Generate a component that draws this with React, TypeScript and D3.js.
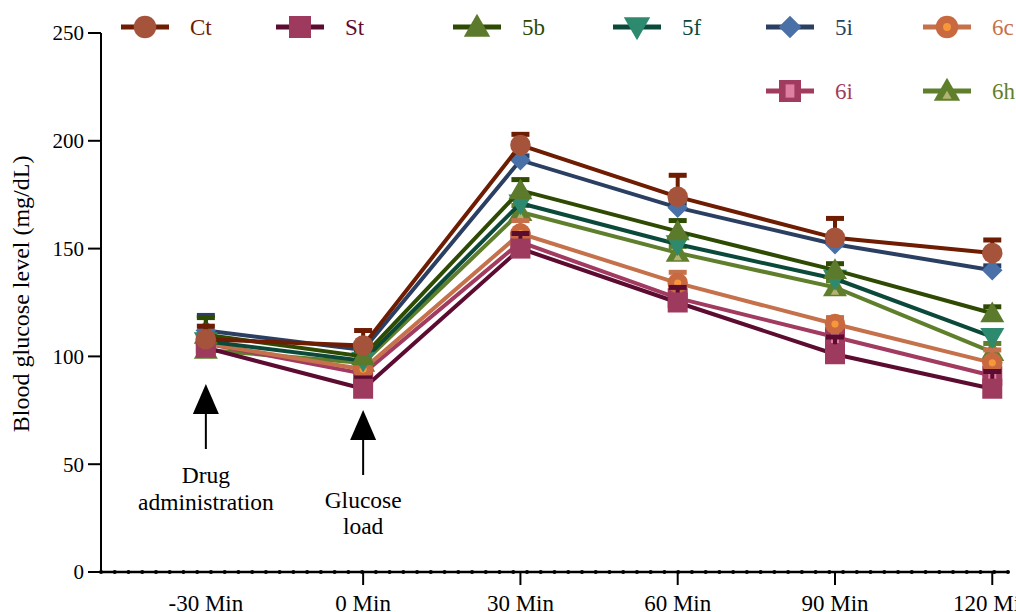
import React, { useRef, useEffect } from "react";
import * as d3 from "d3";

// time points (min)
const times = [-30, 0, 30, 60, 90, 120];
const timeLabels = ["-30 Min", "0 Min", "30 Min", "60 Min", "90 Min", "120 Min"];
const yTicks = [0, 50, 100, 150, 200, 250];

// mean blood glucose (mg/dL) and SEM per group
const ctMean = [108, 105, 198, 174, 155, 148];
const ctSem = [6, 7, 5, 10, 9, 6];
const stMean = [104, 85, 150, 125, 101, 85];
const stSem = [3, 5, 7, 7, 8, 8];
const b5Mean = [110, 100, 177, 158, 140, 120];
const b5Sem = [8, 3, 5, 5, 3, 3];
const f5Mean = [107, 98, 171, 152, 136, 109];
const f5Sem = [3, 3, 3, 3, 3, 3];
const i5Mean = [112, 103, 191, 169, 152, 140];
const i5Sem = [7, 2, 2, 2, 2, 2];
const c6Mean = [106, 94, 157, 134, 115, 97];
const c6Sem = [3, 3, 6, 5, 3, 6];
const i6Mean = [106, 92, 153, 127, 109, 91];
const i6Sem = [3, 3, 3, 3, 3, 3];
const h6Mean = [103, 97, 167, 148, 132, 102];
const h6Sem = [3, 3, 3, 3, 3, 4];

type Shape = "circle" | "square" | "triUp" | "triDown" | "diamond";

interface Series {
  name: string;
  mean: number[];
  sem: number[];
  line: string;
  fill: string;
  inner?: string;
  shape: Shape;
}

const series: Series[] = [
  { name: "Ct", mean: ctMean, sem: ctSem, line: "#6e1c02", fill: "#a5533a", shape: "circle" },
  { name: "St", mean: stMean, sem: stSem, line: "#5c0c30", fill: "#9e3a5e", shape: "square" },
  { name: "5b", mean: b5Mean, sem: b5Sem, line: "#2f4a03", fill: "#5b7a2b", shape: "triUp" },
  { name: "5f", mean: f5Mean, sem: f5Sem, line: "#0b4a3a", fill: "#2e8a6e", shape: "triDown" },
  { name: "5i", mean: i5Mean, sem: i5Sem, line: "#2b3f62", fill: "#4a70a8", shape: "diamond" },
  { name: "6c", mean: c6Mean, sem: c6Sem, line: "#c5714b", fill: "#c8693f", inner: "#f7973a", shape: "circle" },
  { name: "6i", mean: i6Mean, sem: i6Sem, line: "#a23b60", fill: "#a23b60", inner: "#df80a0", shape: "square" },
  { name: "6h", mean: h6Mean, sem: h6Sem, line: "#5f7f2d", fill: "#5f7f2d", inner: "#b4b472", shape: "triUp" },
];

const FONT = "Liberation Serif";

function symbolPath(shape: Shape, scale = 1): string {
  const type =
    shape === "circle" ? d3.symbolCircle : shape === "square" || shape === "diamond" ? d3.symbolSquare : d3.symbolTriangle;
  const size =
    shape === "circle" ? 330 : shape === "square" ? 400 : shape === "diamond" ? 210 : 250;
  return d3.symbol().type(type).size(size * scale * scale)() || "";
}

function drawMarker(
  g: d3.Selection<SVGGElement, unknown, null, undefined>,
  s: Series,
  cx: number,
  cy: number,
  k = 1
) {
  const m = g.append("g").attr("transform", `translate(${cx},${cy})`);
  const rot = s.shape === "triDown" ? " rotate(180)" : s.shape === "diamond" ? " rotate(45)" : "";
  const dy = s.shape === "triUp" ? 2 : s.shape === "triDown" ? -2 : 0;
  m.append("path")
    .attr("d", symbolPath(s.shape, k))
    .attr("transform", `translate(0,${dy})${rot}`)
    .attr("fill", s.fill);
  if (s.inner) {
    if (s.shape === "square") {
      m.append("rect")
        .attr("x", -4 * k)
        .attr("y", -6 * k)
        .attr("width", 8 * k)
        .attr("height", 12 * k)
        .attr("fill", s.inner);
    } else {
      m.append("path")
        .attr("d", symbolPath(s.shape, 0.35 * k))
        .attr("transform", `translate(0,${dy + (s.shape === "triUp" ? 3 : 0)})`)
        .attr("fill", s.inner);
    }
  }
}

export default function App() {
  const svgRef = useRef<SVGSVGElement>(null);

  useEffect(() => {
    if (!svgRef.current) return;
    const width = 1016;
    const height = 612;

    const x = d3.scaleLinear().domain([-50, 123]).range([101, 1008]);
    const y = d3.scaleLinear().domain([0, 250]).range([572, 33]);

    const svg = d3.select(svgRef.current).attr("width", width).attr("height", height);
    svg.selectAll("*").remove();

    const label = (
      parent: d3.Selection<SVGGElement, unknown, null, undefined>,
      px: number,
      py: number,
      txt: string,
      size: number,
      anchor = "middle"
    ) =>
      parent
        .append("text")
        .attr("x", px)
        .attr("y", py)
        .attr("text-anchor", anchor)
        .style("font-family", FONT)
        .style("font-size", `${size}px`)
        .text(txt);

    // y axis
    const ax = svg.append("g");
    ax.append("line")
      .attr("x1", x(-50))
      .attr("x2", x(-50))
      .attr("y1", y(250))
      .attr("y2", y(0))
      .attr("stroke", "#000")
      .attr("stroke-width", 2);
    yTicks.forEach((v) => {
      ax.append("line")
        .attr("x1", x(-50) - 13)
        .attr("x2", x(-50))
        .attr("y1", y(v))
        .attr("y2", y(v))
        .attr("stroke", "#000")
        .attr("stroke-width", 2);
      label(ax, x(-50) - 17, y(v), String(v), 21, "end").attr("dy", "0.35em");
    });

    // x axis with minor dots
    ax.append("line")
      .attr("x1", x(-50))
      .attr("x2", x(123))
      .attr("y1", y(0))
      .attr("y2", y(0))
      .attr("stroke", "#000")
      .attr("stroke-width", 2.5);
    const [r0, r1] = x.range();
    d3.range(67).forEach((i) => {
      const px = r0 + (i * (r1 - r0)) / 66;
      ax.append("circle").attr("cx", px).attr("cy", y(0)).attr("r", 2).attr("fill", "#000");
    });
    times.forEach((t, i) => {
      if (t !== -30) {
        ax.append("line")
          .attr("x1", x(t))
          .attr("x2", x(t))
          .attr("y1", y(0))
          .attr("y2", y(0) + 13)
          .attr("stroke", "#000")
          .attr("stroke-width", 2);
      }
      label(ax, x(t), 611, timeLabels[i], 23);
    });

    label(ax, 0, 0, "Blood glucose level (mg/dL)", 24).attr(
      "transform",
      `translate(29,${y(129)}) rotate(-90)`
    );

    // annotations
    const ann = svg.append("g");
    const arrow = (cx: number, tip: number) => {
      ann.append("path")
        .attr("d", `M${cx},${tip} L${cx - 13},${tip + 30} L${cx + 13},${tip + 30} Z`)
        .attr("fill", "#000");
      ann.append("line")
        .attr("x1", cx)
        .attr("x2", cx)
        .attr("y1", tip + 28)
        .attr("y2", tip + 65)
        .attr("stroke", "#000")
        .attr("stroke-width", 2);
    };
    arrow(x(-30), 384);
    arrow(x(0), 410);
    label(ann, x(-30), 483, "Drug", 23.5);
    label(ann, x(-30), 510, "administration", 23.5);
    label(ann, x(0), 508, "Glucose", 23.5);
    label(ann, x(0), 534, "load", 23.5);

    // series, last first so Ct sits on top
    const plot = svg.append("g");
    const line = d3
      .line<number>()
      .x((_, i) => x(times[i]))
      .y((d) => y(d));

    [...series].reverse().forEach((s) => {
      const g = plot.append("g");
      g.append("path")
        .attr("d", line(s.mean) || "")
        .attr("fill", "none")
        .attr("stroke", s.line)
        .attr("stroke-width", 4);
      s.mean.forEach((m, i) => {
        const cx = x(times[i]);
        const top = y(m + s.sem[i]);
        g.append("line")
          .attr("x1", cx)
          .attr("x2", cx)
          .attr("y1", y(m))
          .attr("y2", top)
          .attr("stroke", s.line)
          .attr("stroke-width", 4);
        g.append("line")
          .attr("x1", cx - 9)
          .attr("x2", cx + 9)
          .attr("y1", top)
          .attr("y2", top)
          .attr("stroke", s.line)
          .attr("stroke-width", 5);
      });
      s.mean.forEach((m, i) => drawMarker(g, s, x(times[i]), y(m)));
    });

    // legend
    const leg = svg.append("g");
    const legPos = [
      [145, 27],
      [300, 27],
      [477, 27],
      [637, 27],
      [790, 27],
      [947, 27],
      [790, 91],
      [947, 91],
    ];
    series.forEach((s, i) => {
      const [lx, ly] = legPos[i];
      leg.append("line")
        .attr("x1", lx - 24)
        .attr("x2", lx + 24)
        .attr("y1", ly)
        .attr("y2", ly)
        .attr("stroke", s.line)
        .attr("stroke-width", 5);
      drawMarker(leg, s, lx, ly, 1.1);
      label(leg, lx + 45, ly, s.name, 23, "start").attr("dy", "0.33em").attr("fill", s.line);
    });
  }, []);

  return (
    <svg
      ref={svgRef}
      style={{ position: "absolute", left: 0, top: 0, background: "#fff" }}
    ></svg>
  );
}
